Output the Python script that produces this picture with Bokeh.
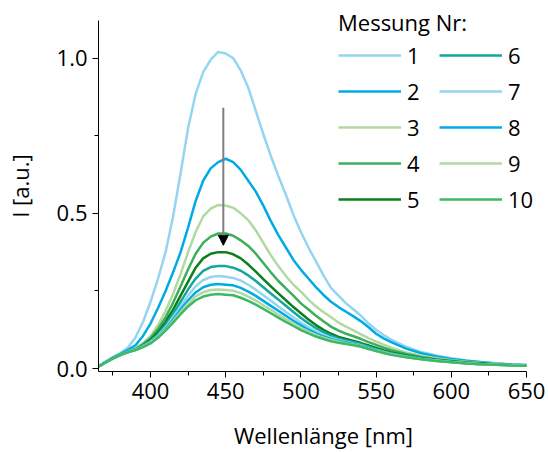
from bokeh.plotting import figure
from bokeh.models import (Range1d, FixedTicker, Legend, LegendItem, Arrow,
                          NormalHead)
from bokeh.embed import file_html
from bokeh.resources import INLINE

# Emission spectra, intensity vs. wavelength for ten consecutive measurements
wavelength = [365, 370, 375, 380, 385, 390, 395, 400, 405, 410, 415, 420, 425,
              430, 435, 440, 445, 450, 455, 460, 465, 470, 475, 480, 485, 490,
              495, 500, 505, 510, 515, 520, 525, 530, 535, 540, 545, 550, 555,
              560, 570, 580, 590, 600, 610, 620, 630, 640, 650]

m1 = [0.005, 0.022, 0.037, 0.05, 0.068,
      0.10, 0.15, 0.215, 0.29, 0.375, 0.49, 0.63, 0.775, 0.885, 0.955, 0.995, 1.02, 1.015,
      1.0, 0.96, 0.905, 0.83, 0.755, 0.685, 0.62, 0.56, 0.495, 0.44, 0.39, 0.345, 0.3,
      0.26, 0.235, 0.21, 0.19, 0.17, 0.145, 0.125, 0.108, 0.093, 0.07, 0.053, 0.042,
      0.033, 0.026, 0.021, 0.017, 0.013, 0.011]
m2 = [0.005, 0.021, 0.035, 0.047, 0.06,
      0.075, 0.105, 0.145, 0.195, 0.25, 0.31, 0.375, 0.455, 0.54, 0.605, 0.645, 0.665, 0.676,
      0.665, 0.64, 0.605, 0.57, 0.525, 0.475, 0.43, 0.39, 0.35, 0.318, 0.29, 0.262, 0.237,
      0.215, 0.198, 0.183, 0.168, 0.152, 0.133, 0.112, 0.097, 0.085, 0.064, 0.049, 0.039,
      0.031, 0.025, 0.02, 0.016, 0.013, 0.011]
m3 = [0.005, 0.02, 0.033, 0.044, 0.054,
      0.065, 0.082, 0.105, 0.14, 0.185, 0.24, 0.305, 0.375, 0.44, 0.49, 0.515, 0.527, 0.525,
      0.518, 0.5, 0.478, 0.445, 0.405, 0.365, 0.33, 0.298, 0.27, 0.248, 0.222, 0.2, 0.182,
      0.165, 0.148, 0.135, 0.123, 0.11, 0.098, 0.087, 0.077, 0.067, 0.052, 0.041, 0.033,
      0.027, 0.022, 0.018, 0.015, 0.012, 0.010]
m4 = [0.005, 0.02, 0.033, 0.044, 0.053,
      0.063, 0.078, 0.098, 0.128, 0.165, 0.212, 0.265, 0.32, 0.37, 0.405, 0.425, 0.435, 0.435,
      0.428, 0.413, 0.395, 0.37, 0.34, 0.31, 0.282, 0.258, 0.235, 0.21, 0.19, 0.17, 0.152,
      0.135, 0.122, 0.112, 0.104, 0.095, 0.085, 0.076, 0.067, 0.059, 0.047, 0.037, 0.03,
      0.025, 0.02, 0.017, 0.014, 0.012, 0.010]
m5 = [0.005, 0.02, 0.033, 0.044, 0.053,
      0.062, 0.075, 0.092, 0.117, 0.15, 0.19, 0.235, 0.28, 0.325, 0.355, 0.37, 0.375, 0.375,
      0.368, 0.355, 0.335, 0.312, 0.288, 0.265, 0.242, 0.22, 0.198, 0.178, 0.158, 0.14, 0.125,
      0.112, 0.102, 0.095, 0.089, 0.082, 0.074, 0.066, 0.058, 0.052, 0.042, 0.034, 0.028,
      0.023, 0.019, 0.016, 0.013, 0.011, 0.010]
m6 = [0.005, 0.02, 0.033, 0.044, 0.053,
      0.061, 0.073, 0.088, 0.11, 0.14, 0.175, 0.215, 0.255, 0.29, 0.315, 0.327, 0.33, 0.33,
      0.325, 0.315, 0.3, 0.282, 0.262, 0.242, 0.222, 0.202, 0.182, 0.163, 0.146, 0.13, 0.117,
      0.106, 0.097, 0.09, 0.085, 0.078, 0.07, 0.062, 0.055, 0.049, 0.04, 0.033, 0.027,
      0.022, 0.018, 0.015, 0.013, 0.011, 0.010]
m7 = [0.005, 0.02, 0.033, 0.044, 0.053,
      0.061, 0.072, 0.086, 0.106, 0.133, 0.165, 0.2, 0.235, 0.265, 0.285, 0.295, 0.298, 0.296,
      0.292, 0.283, 0.27, 0.254, 0.236, 0.218, 0.2, 0.182, 0.165, 0.148, 0.133, 0.12, 0.108,
      0.099, 0.092, 0.086, 0.081, 0.075, 0.067, 0.06, 0.053, 0.047, 0.038, 0.031, 0.026,
      0.021, 0.017, 0.014, 0.012, 0.011, 0.009]
m8 = [0.005, 0.02, 0.033, 0.044, 0.053,
      0.060, 0.071, 0.084, 0.103, 0.128, 0.157, 0.19, 0.22, 0.245, 0.262, 0.27, 0.272, 0.27,
      0.268, 0.26, 0.248, 0.234, 0.218, 0.202, 0.186, 0.17, 0.154, 0.139, 0.125, 0.113, 0.103,
      0.095, 0.089, 0.084, 0.079, 0.073, 0.066, 0.059, 0.052, 0.046, 0.037, 0.031, 0.025,
      0.021, 0.017, 0.014, 0.012, 0.010, 0.009]
m9 = [0.005, 0.02, 0.033, 0.044, 0.053,
      0.060, 0.070, 0.083, 0.101, 0.125, 0.152, 0.182, 0.21, 0.232, 0.246, 0.253, 0.255, 0.253,
      0.251, 0.243, 0.232, 0.219, 0.204, 0.189, 0.174, 0.159, 0.145, 0.131, 0.119, 0.108, 0.099,
      0.092, 0.086, 0.081, 0.077, 0.071, 0.064, 0.057, 0.051, 0.045, 0.037, 0.03, 0.025,
      0.02, 0.017, 0.014, 0.012, 0.010, 0.009]
m10 = [0.005, 0.02, 0.033, 0.044, 0.053,
       0.059, 0.069, 0.081, 0.099, 0.122, 0.148, 0.175, 0.2, 0.22, 0.232, 0.238, 0.24, 0.238,
       0.236, 0.228, 0.218, 0.206, 0.192, 0.178, 0.164, 0.15, 0.137, 0.124, 0.113, 0.103, 0.095,
       0.088, 0.083, 0.079, 0.075, 0.07, 0.063, 0.056, 0.05, 0.044, 0.036, 0.03, 0.024,
       0.02, 0.016, 0.014, 0.012, 0.010, 0.009]

series = [m1, m2, m3, m4, m5, m6, m7, m8, m9, m10]
labels = ["1", "2", "3", "4", "5", "6", "7", "8", "9", "10"]
colors = ["#94d5f1", "#00abe4", "#b2d9a2", "#3daf5a", "#0b7f1a",
          "#12a79d", "#94d5f1", "#00abe4", "#b2d9a2", "#3db863"]

x_ticks = [400, 450, 500, 550, 600, 650]
x_minor = [375, 425, 475, 525, 575, 625]
y_ticks = [0.0, 0.5, 1.0]
y_tick_labels = ["0.0", "0.5", "1.0"]
y_minor = [0.25, 0.75]

# arrow marking the decreasing intensity from run to run
arrow_x = 448.4
arrow_from = 0.84
arrow_to = 0.397

FONT = "Open Sans"
FS = "22px"

# the frame reaches the canvas edges so the legend is not clipped;
# the axes themselves are limited with bounds
p = figure(width=548, height=452, output_backend="svg", toolbar_location=None,
           x_range=Range1d(365.4, 664.63), y_range=Range1d(-0.0096, 1.1859),
           min_border_left=98, min_border_right=0, min_border_top=0,
           min_border_bottom=79)
p.outline_line_color = None
p.xgrid.grid_line_color = None
p.ygrid.grid_line_color = None
p.background_fill_color = "white"
p.border_fill_color = "white"

items = []
for lab, ys, col in zip(labels, series, colors):
    r = p.line(wavelength, ys, line_color=col, line_width=2.5)
    items.append(LegendItem(label=lab, renderers=[r]))

p.add_layout(Arrow(x_start=arrow_x, y_start=arrow_from, x_end=arrow_x, y_end=arrow_to,
                   line_color="#7f7f7f", line_width=2,
                   end=NormalHead(size=10, fill_color="black", line_color="black",
                                  line_width=1)))

for ax in (p.xaxis[0], p.yaxis[0]):
    ax.axis_line_color = "black"
    ax.axis_line_width = 1
    ax.major_tick_line_color = "black"
    ax.minor_tick_line_color = "black"
    ax.major_tick_out = 6
    ax.major_tick_in = 0
    ax.minor_tick_out = 4
    ax.minor_tick_in = 0
    ax.major_label_text_font = FONT
    ax.major_label_text_font_size = FS
    ax.major_label_text_color = "black"
    ax.major_label_standoff = 5
    ax.axis_label_text_font = FONT
    ax.axis_label_text_font_size = FS
    ax.axis_label_text_font_style = "normal"
    ax.axis_label_text_color = "black"

p.xaxis.bounds = (365.4, 650)
p.yaxis.bounds = (-0.0096, 1.1218)
p.xaxis.ticker = FixedTicker(ticks=x_ticks, minor_ticks=x_minor)
p.yaxis.ticker = FixedTicker(ticks=y_ticks, minor_ticks=y_minor)
p.yaxis.major_label_overrides = {t: s for t, s in zip(y_ticks, y_tick_labels)}
p.xaxis.axis_label = "Wellenlänge [nm]"
p.yaxis.axis_label = "I [a.u.]"
p.xaxis.axis_label_standoff = 18
p.yaxis.axis_label_standoff = 19

legend = Legend(items=items, title="Messung Nr:", nrows=5, orientation="vertical",
                location=(240, 157), padding=0, margin=0, spacing=6,
                glyph_width=63, glyph_height=30, label_height=30, label_width=26,
                label_standoff=6, border_line_color=None, background_fill_alpha=0,
                label_text_font=FONT, label_text_font_size=FS,
                label_text_color="black",
                title_text_font=FONT, title_text_font_size=FS,
                title_text_color="black",
                title_text_font_style="normal", title_standoff=3)
p.add_layout(legend)

open("out.html", "w").write(file_html(p, INLINE))
